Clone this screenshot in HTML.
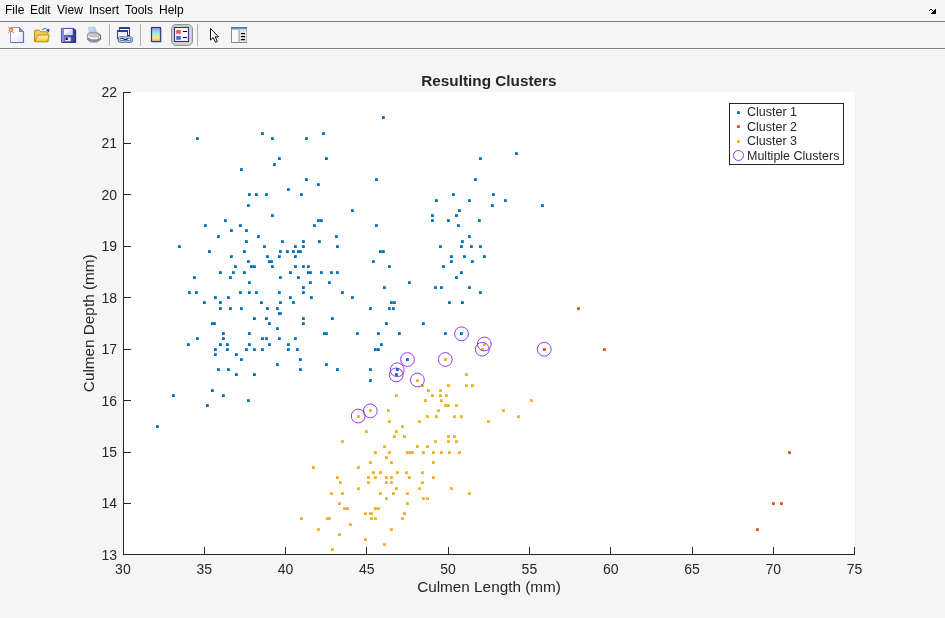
<!DOCTYPE html>
<html><head><meta charset="utf-8"><title>Resulting Clusters</title>
<style>
html,body{margin:0;padding:0}
body{width:945px;height:618px;background:#f5f5f5;position:relative;overflow:hidden;font-family:"Liberation Sans",Arial,sans-serif}
#menubar{position:absolute;left:0;top:0;width:945px;height:21px;font-size:12px;color:#000}
#menubar span{position:absolute;top:3px;white-space:nowrap}
.hl{position:absolute;left:0;width:945px;height:1px;background:#808080}
</style></head><body>
<div id="menubar">
<span style="left:5px">File</span><span style="left:30px">Edit</span><span style="left:57px">View</span><span style="left:89px">Insert</span><span style="left:125px">Tools</span><span style="left:159px">Help</span>
</div>
<div class="hl" style="top:21px"></div>
<div class="hl" style="top:48px"></div>
<svg id="toolbar" width="945" height="50" viewBox="0 0 945 50" style="position:absolute;left:0;top:0">
<defs>
<linearGradient id="gpage" x1="0" y1="0" x2="1" y2="1"><stop offset="0" stop-color="#ffffff"/><stop offset="0.45" stop-color="#fbfdff"/><stop offset="1" stop-color="#d2e1fa"/></linearGradient>
<linearGradient id="gfold" x1="0" y1="0" x2="0" y2="1"><stop offset="0" stop-color="#fff6b0"/><stop offset="1" stop-color="#f2c838"/></linearGradient>
<linearGradient id="gsave" x1="0" y1="0" x2="1" y2="0"><stop offset="0" stop-color="#7a7ae6"/><stop offset="1" stop-color="#34349a"/></linearGradient>
<linearGradient id="gcb" x1="0" y1="0" x2="0" y2="1"><stop offset="0" stop-color="#a08cf0"/><stop offset="0.35" stop-color="#8fe6ea"/><stop offset="0.7" stop-color="#f6f088"/><stop offset="1" stop-color="#fab090"/></linearGradient>
<linearGradient id="gpaper" x1="0" y1="0" x2="1" y2="1"><stop offset="0" stop-color="#d8e8ff"/><stop offset="1" stop-color="#9cc0f0"/></linearGradient>
<linearGradient id="gprn" x1="0" y1="0" x2="0" y2="1"><stop offset="0" stop-color="#e8e8e8"/><stop offset="1" stop-color="#9a9a9a"/></linearGradient>
</defs>
<!-- dock arrow -->
<g fill="#000" shape-rendering="crispEdges"><rect x="930" y="9" width="1" height="1"/><rect x="931" y="9" width="1" height="1"/><rect x="935" y="9" width="1" height="1"/><rect x="929" y="10" width="1" height="1"/><rect x="932" y="10" width="1" height="1"/><rect x="934" y="10" width="1" height="1"/><rect x="935" y="10" width="1" height="1"/><rect x="933" y="11" width="1" height="1"/><rect x="934" y="11" width="1" height="1"/><rect x="935" y="11" width="1" height="1"/><rect x="932" y="12" width="1" height="1"/><rect x="933" y="12" width="1" height="1"/><rect x="934" y="12" width="1" height="1"/><rect x="935" y="12" width="1" height="1"/><rect x="931" y="13" width="1" height="1"/><rect x="932" y="13" width="1" height="1"/><rect x="933" y="13" width="1" height="1"/><rect x="934" y="13" width="1" height="1"/><rect x="935" y="13" width="1" height="1"/></g>
<!-- new -->
<path d="M10.5 27.5 H19.5 L23.5 31.5 V42.5 H10.5 Z" fill="url(#gpage)" stroke="#7a9ad8" stroke-width="1"/>
<path d="M23.5 31.5 V42.5 H11" fill="none" stroke="#6a6fa5" stroke-width="1.2"/>
<path d="M19.5 27.5 V31.5 H23.5 Z" fill="#8f95cc" stroke="#6a6fa5" stroke-width="0.8"/>
<g fill="#e88a5a"><rect x="7.8" y="26.8" width="1.2" height="1.2"/><rect x="13" y="26.8" width="1.2" height="1.2"/><rect x="7.8" y="32" width="1.2" height="1.2"/><rect x="13" y="32" width="1.2" height="1.2"/></g>
<circle cx="11" cy="30" r="2.4" fill="#ea7e52"/><circle cx="11" cy="30" r="1.1" fill="#f4e060"/>
<!-- open -->
<path d="M34.5 31.2 Q34.5 30.2 35.5 30.2 H39.6 L40.8 31.8 H47 Q48 31.8 48 32.8 V41.5 H34.5 Z" fill="#f3cf52" stroke="#c08a10" stroke-width="1"/>
<path d="M37.6 35 H49.2 L47.6 41.8 H35 Z" fill="url(#gfold)" stroke="#c08a10" stroke-width="1"/>
<path d="M42 30.2 Q45 26.8 47.6 30" fill="none" stroke="#5878b8" stroke-width="1.1"/>
<path d="M49.3 28.6 L49.2 32.4 L46.2 30.6 Z" fill="#2f4f9a"/>
<!-- save -->
<path d="M61.5 28.4 H74 L75.5 29.9 V42.3 H61.5 Z" fill="url(#gsave)" stroke="#3a3a98" stroke-width="0.8"/>
<path d="M62 42.4 H75.7 V29.6" fill="none" stroke="#24246a" stroke-width="0.8"/><rect x="62" y="28.5" width="1.6" height="13.4" fill="#9a9af2" opacity="0.8"/><rect x="64" y="29" width="8.5" height="6" fill="#f4f6ff"/>
<path d="M72.5 29 V35 H64 Z" fill="#c8d0f0" opacity="0.7"/>
<rect x="65.3" y="37.4" width="5.4" height="3.8" fill="#e8e8f4"/>
<rect x="65.6" y="37.6" width="2.2" height="2.4" fill="#101020"/>
<!-- print -->
<path d="M88.3 27.2 H94.8 L96.7 33 H89.8 Z" fill="url(#gpaper)" stroke="#8aa8dc" stroke-width="0.5"/>
<path d="M87.4 34.2 L89.2 32.8 H97 L100.6 35.2 V39.6 L96.6 42.4 H91.2 L87.4 39.8 Z" fill="#b4b4b4" stroke="#7c7c7c" stroke-width="0.7"/>
<path d="M87.8 35.4 L91.6 37.2 H96.6 L100.2 35.6 V37.4 L96.6 39.2 H91.6 L87.8 37.2 Z" fill="#f2f2f2"/>
<path d="M87.8 37.6 L91.6 39.6 H96.6 L100.2 37.8 V39.4 L96.4 41.9 H91.4 L87.8 39.5 Z" fill="#8e8e8e"/>
<path d="M89.6 33.4 H96.8 L99.6 35.2 L96.6 36.6 H91.8 L88.4 35 Z" fill="#c8c8c8"/>
<path d="M97.2 33 L100.6 35.3 V39.4" fill="none" stroke="#5e5e5e" stroke-width="0.8"/>
<rect x="98" y="36.4" width="1.1" height="1.1" fill="#38c038"/>
<path d="M91.4 42.1 H96.4" stroke="#c8d4f0" stroke-width="0.9"/>
<path d="M93.2 41.2 H95.6" stroke="#5a7ad0" stroke-width="0.9"/>
<!-- separators -->
<g fill="#b2b2b2"><rect x="109" y="24" width="1" height="22"/><rect x="140" y="24" width="1" height="22"/><rect x="197" y="24" width="1" height="22"/></g>
<!-- link -->
<rect x="119.5" y="28" width="10" height="7.5" fill="#f4f6fc" stroke="#2a3f8f" stroke-width="1"/>
<rect x="119" y="27" width="11" height="2" fill="#2a3f8f"/>
<rect x="117.5" y="31" width="10" height="7.5" fill="#eef2fa" stroke="#2a3f8f" stroke-width="1"/>
<rect x="117" y="30" width="11" height="2" fill="#2a3f8f"/>
<g fill="none" stroke="#3c5488" stroke-width="2.6"><ellipse cx="122.2" cy="39.4" rx="3.2" ry="2.2"/><ellipse cx="128.6" cy="39.4" rx="3.2" ry="2.2"/></g>
<g fill="none" stroke="#b8cce8" stroke-width="1.2"><ellipse cx="122.2" cy="39.4" rx="3.2" ry="2.2"/><ellipse cx="128.6" cy="39.4" rx="3.2" ry="2.2"/></g>
<path d="M123.5 39.6 H127.5" stroke="#1c2c58" stroke-width="1.2"/>
<!-- colorbar -->
<rect x="151.5" y="27.5" width="9" height="14" fill="url(#gcb)" stroke="#2a3f7f" stroke-width="1.2"/>
<path d="M161.3 28.5 V42.3 H152.5" fill="none" stroke="#8a93b0" stroke-width="0.8" opacity="0.7"/>
<!-- legend (pressed) -->
<rect x="171.5" y="24.5" width="21" height="21" rx="4.5" ry="4.5" fill="#dcdcdc" stroke="#929292" stroke-width="1"/>
<rect x="172.7" y="25.7" width="18.6" height="18.6" rx="3.5" ry="3.5" fill="none" stroke="#c6c6c6" stroke-width="1"/>
<rect x="174.5" y="27.5" width="14" height="14" fill="#fff" stroke="#2a3f7f" stroke-width="1.2"/>
<rect x="176.2" y="30" width="4.6" height="3.8" fill="#e85858"/>
<rect x="176.2" y="36" width="4.6" height="3.8" fill="#6060e0"/>
<rect x="183" y="31" width="4" height="1" fill="#000"/><rect x="183" y="37" width="4" height="1" fill="#000"/>
<!-- arrow -->
<path d="M210.5 28.5 V40 L213.2 37.6 L215.6 42.3 L217.4 41.4 L215.2 36.9 H218.6 Z" fill="#fff" stroke="#000" stroke-width="0.95" stroke-linejoin="miter"/>
<!-- property inspector -->
<rect x="231.5" y="27.5" width="15" height="15" fill="#fafafa" stroke="#8a8a8a" stroke-width="1"/>
<rect x="231" y="27" width="16" height="2.4" fill="#4a78b0"/><rect x="231.5" y="28.6" width="15" height="0.8" fill="#9fc0e0"/>
<rect x="239" y="29.4" width="7.5" height="12.6" fill="#e2e5e8"/>
<rect x="238.6" y="29.4" width="1" height="12.6" fill="#8a98a8"/>
<g fill="#000"><rect x="241" y="33" width="4" height="1.2"/><rect x="241" y="36" width="4" height="1.2"/><rect x="241" y="39" width="4" height="1.2"/></g>
</svg>

<svg id="plot" width="945" height="618" viewBox="0 0 945 618" style="position:absolute;left:0;top:0" shape-rendering="auto">
<rect x="123" y="92" width="732" height="463" fill="#fff"/>
<defs>
<g id="c1" shape-rendering="crispEdges"><rect width="3" height="3" fill="#0072BD"/><rect width="3" height="1" fill="#fff" fill-opacity="0.18"/><rect x="2" width="1" height="3" fill="#fff" fill-opacity="0.18"/></g>
<g id="c2" shape-rendering="crispEdges"><rect width="3" height="3" fill="#D95319"/><rect width="3" height="1" fill="#fff" fill-opacity="0.18"/><rect x="2" width="1" height="3" fill="#fff" fill-opacity="0.18"/></g>
<g id="c3" shape-rendering="crispEdges"><rect width="3" height="3" fill="#EDB120"/><rect width="3" height="1" fill="#fff" fill-opacity="0.18"/><rect x="2" width="1" height="3" fill="#fff" fill-opacity="0.18"/></g>
</defs>
<g>
<use href="#c1" x="196" y="137"/>
<use href="#c1" x="261" y="132"/>
<use href="#c1" x="271" y="137"/>
<use href="#c1" x="278" y="157"/>
<use href="#c1" x="273" y="163"/>
<use href="#c1" x="240" y="168"/>
<use href="#c1" x="287" y="188"/>
<use href="#c1" x="248" y="193"/>
<use href="#c1" x="255" y="193"/>
<use href="#c1" x="265" y="193"/>
<use href="#c1" x="247" y="204"/>
<use href="#c1" x="271" y="214"/>
<use href="#c1" x="382" y="116"/>
<use href="#c1" x="322" y="132"/>
<use href="#c1" x="305" y="137"/>
<use href="#c1" x="325" y="157"/>
<use href="#c1" x="305" y="178"/>
<use href="#c1" x="317" y="183"/>
<use href="#c1" x="375" y="178"/>
<use href="#c1" x="300" y="193"/>
<use href="#c1" x="452" y="193"/>
<use href="#c1" x="435" y="199"/>
<use href="#c1" x="351" y="209"/>
<use href="#c1" x="458" y="209"/>
<use href="#c1" x="431" y="214"/>
<use href="#c1" x="455" y="214"/>
<use href="#c1" x="515" y="152"/>
<use href="#c1" x="479" y="157"/>
<use href="#c1" x="474" y="178"/>
<use href="#c1" x="492" y="193"/>
<use href="#c1" x="468" y="199"/>
<use href="#c1" x="504" y="199"/>
<use href="#c1" x="491" y="204"/>
<use href="#c1" x="541" y="204"/>
<use href="#c1" x="224" y="219"/>
<use href="#c1" x="204" y="224"/>
<use href="#c1" x="239" y="224"/>
<use href="#c1" x="230" y="229"/>
<use href="#c1" x="245" y="229"/>
<use href="#c1" x="217" y="235"/>
<use href="#c1" x="257" y="235"/>
<use href="#c1" x="245" y="240"/>
<use href="#c1" x="281" y="240"/>
<use href="#c1" x="178" y="245"/>
<use href="#c1" x="263" y="245"/>
<use href="#c1" x="294" y="245"/>
<use href="#c1" x="208" y="250"/>
<use href="#c1" x="243" y="250"/>
<use href="#c1" x="279" y="250"/>
<use href="#c1" x="286" y="250"/>
<use href="#c1" x="292" y="250"/>
<use href="#c1" x="297" y="250"/>
<use href="#c1" x="299" y="250"/>
<use href="#c1" x="230" y="255"/>
<use href="#c1" x="266" y="255"/>
<use href="#c1" x="278" y="255"/>
<use href="#c1" x="294" y="255"/>
<use href="#c1" x="247" y="260"/>
<use href="#c1" x="268" y="260"/>
<use href="#c1" x="270" y="260"/>
<use href="#c1" x="234" y="265"/>
<use href="#c1" x="250" y="265"/>
<use href="#c1" x="253" y="265"/>
<use href="#c1" x="271" y="265"/>
<use href="#c1" x="294" y="265"/>
<use href="#c1" x="219" y="271"/>
<use href="#c1" x="232" y="271"/>
<use href="#c1" x="243" y="271"/>
<use href="#c1" x="289" y="271"/>
<use href="#c1" x="193" y="276"/>
<use href="#c1" x="229" y="276"/>
<use href="#c1" x="279" y="276"/>
<use href="#c1" x="297" y="276"/>
<use href="#c1" x="248" y="281"/>
<use href="#c1" x="188" y="291"/>
<use href="#c1" x="195" y="291"/>
<use href="#c1" x="239" y="291"/>
<use href="#c1" x="248" y="291"/>
<use href="#c1" x="255" y="291"/>
<use href="#c1" x="278" y="291"/>
<use href="#c1" x="214" y="296"/>
<use href="#c1" x="227" y="296"/>
<use href="#c1" x="289" y="296"/>
<use href="#c1" x="203" y="301"/>
<use href="#c1" x="219" y="301"/>
<use href="#c1" x="260" y="301"/>
<use href="#c1" x="279" y="301"/>
<use href="#c1" x="292" y="301"/>
<use href="#c1" x="219" y="307"/>
<use href="#c1" x="229" y="307"/>
<use href="#c1" x="240" y="307"/>
<use href="#c1" x="266" y="307"/>
<use href="#c1" x="276" y="307"/>
<use href="#c1" x="278" y="312"/>
<use href="#c1" x="279" y="312"/>
<use href="#c1" x="253" y="317"/>
<use href="#c1" x="265" y="317"/>
<use href="#c1" x="211" y="322"/>
<use href="#c1" x="213" y="322"/>
<use href="#c1" x="268" y="322"/>
<use href="#c1" x="276" y="327"/>
<use href="#c1" x="222" y="332"/>
<use href="#c1" x="248" y="332"/>
<use href="#c1" x="317" y="219"/>
<use href="#c1" x="320" y="219"/>
<use href="#c1" x="431" y="219"/>
<use href="#c1" x="447" y="219"/>
<use href="#c1" x="313" y="224"/>
<use href="#c1" x="375" y="224"/>
<use href="#c1" x="457" y="224"/>
<use href="#c1" x="335" y="235"/>
<use href="#c1" x="302" y="240"/>
<use href="#c1" x="318" y="240"/>
<use href="#c1" x="302" y="245"/>
<use href="#c1" x="336" y="245"/>
<use href="#c1" x="439" y="245"/>
<use href="#c1" x="379" y="250"/>
<use href="#c1" x="382" y="250"/>
<use href="#c1" x="450" y="255"/>
<use href="#c1" x="372" y="260"/>
<use href="#c1" x="450" y="260"/>
<use href="#c1" x="302" y="265"/>
<use href="#c1" x="307" y="265"/>
<use href="#c1" x="388" y="265"/>
<use href="#c1" x="442" y="265"/>
<use href="#c1" x="307" y="271"/>
<use href="#c1" x="309" y="271"/>
<use href="#c1" x="320" y="271"/>
<use href="#c1" x="330" y="271"/>
<use href="#c1" x="336" y="271"/>
<use href="#c1" x="455" y="276"/>
<use href="#c1" x="309" y="281"/>
<use href="#c1" x="328" y="281"/>
<use href="#c1" x="408" y="281"/>
<use href="#c1" x="302" y="286"/>
<use href="#c1" x="383" y="286"/>
<use href="#c1" x="434" y="286"/>
<use href="#c1" x="440" y="286"/>
<use href="#c1" x="302" y="291"/>
<use href="#c1" x="341" y="291"/>
<use href="#c1" x="310" y="296"/>
<use href="#c1" x="351" y="296"/>
<use href="#c1" x="390" y="301"/>
<use href="#c1" x="393" y="301"/>
<use href="#c1" x="448" y="301"/>
<use href="#c1" x="369" y="307"/>
<use href="#c1" x="388" y="307"/>
<use href="#c1" x="392" y="307"/>
<use href="#c1" x="302" y="317"/>
<use href="#c1" x="331" y="317"/>
<use href="#c1" x="302" y="322"/>
<use href="#c1" x="385" y="322"/>
<use href="#c1" x="422" y="322"/>
<use href="#c1" x="323" y="332"/>
<use href="#c1" x="325" y="332"/>
<use href="#c1" x="356" y="332"/>
<use href="#c1" x="377" y="332"/>
<use href="#c1" x="398" y="332"/>
<use href="#c1" x="444" y="332"/>
<use href="#c1" x="478" y="219"/>
<use href="#c1" x="468" y="235"/>
<use href="#c1" x="461" y="240"/>
<use href="#c1" x="460" y="245"/>
<use href="#c1" x="470" y="245"/>
<use href="#c1" x="479" y="245"/>
<use href="#c1" x="463" y="255"/>
<use href="#c1" x="483" y="255"/>
<use href="#c1" x="471" y="260"/>
<use href="#c1" x="460" y="271"/>
<use href="#c1" x="468" y="286"/>
<use href="#c1" x="479" y="291"/>
<use href="#c1" x="461" y="301"/>
<use href="#c1" x="460" y="332"/>
<use href="#c1" x="196" y="337"/>
<use href="#c1" x="222" y="337"/>
<use href="#c1" x="261" y="337"/>
<use href="#c1" x="265" y="337"/>
<use href="#c1" x="278" y="337"/>
<use href="#c1" x="294" y="337"/>
<use href="#c1" x="187" y="343"/>
<use href="#c1" x="219" y="343"/>
<use href="#c1" x="226" y="343"/>
<use href="#c1" x="248" y="343"/>
<use href="#c1" x="268" y="343"/>
<use href="#c1" x="287" y="343"/>
<use href="#c1" x="214" y="348"/>
<use href="#c1" x="226" y="348"/>
<use href="#c1" x="245" y="348"/>
<use href="#c1" x="253" y="348"/>
<use href="#c1" x="261" y="348"/>
<use href="#c1" x="287" y="348"/>
<use href="#c1" x="296" y="348"/>
<use href="#c1" x="214" y="353"/>
<use href="#c1" x="235" y="353"/>
<use href="#c1" x="240" y="358"/>
<use href="#c1" x="299" y="358"/>
<use href="#c1" x="276" y="363"/>
<use href="#c1" x="217" y="368"/>
<use href="#c1" x="227" y="368"/>
<use href="#c1" x="299" y="368"/>
<use href="#c1" x="235" y="373"/>
<use href="#c1" x="253" y="373"/>
<use href="#c1" x="211" y="389"/>
<use href="#c1" x="172" y="394"/>
<use href="#c1" x="222" y="394"/>
<use href="#c1" x="247" y="399"/>
<use href="#c1" x="206" y="404"/>
<use href="#c1" x="156" y="425"/>
<use href="#c1" x="380" y="343"/>
<use href="#c1" x="374" y="348"/>
<use href="#c1" x="377" y="348"/>
<use href="#c1" x="406" y="358"/>
<use href="#c1" x="325" y="363"/>
<use href="#c1" x="336" y="368"/>
<use href="#c1" x="369" y="368"/>
<use href="#c1" x="396" y="368"/>
<use href="#c1" x="395" y="373"/>
<use href="#c1" x="369" y="379"/>
</g>
<g>
<use href="#c2" x="577" y="307"/>
<use href="#c2" x="543" y="348"/>
<use href="#c2" x="603" y="348"/>
<use href="#c2" x="788" y="451"/>
<use href="#c2" x="772" y="502"/>
<use href="#c2" x="780" y="502"/>
<use href="#c2" x="756" y="528"/>
</g>
<g>
<use href="#c3" x="444" y="358"/>
<use href="#c3" x="416" y="379"/>
<use href="#c3" x="421" y="384"/>
<use href="#c3" x="447" y="384"/>
<use href="#c3" x="427" y="389"/>
<use href="#c3" x="439" y="389"/>
<use href="#c3" x="395" y="394"/>
<use href="#c3" x="431" y="394"/>
<use href="#c3" x="439" y="394"/>
<use href="#c3" x="445" y="394"/>
<use href="#c3" x="424" y="399"/>
<use href="#c3" x="440" y="399"/>
<use href="#c3" x="444" y="404"/>
<use href="#c3" x="447" y="404"/>
<use href="#c3" x="455" y="404"/>
<use href="#c3" x="369" y="409"/>
<use href="#c3" x="387" y="409"/>
<use href="#c3" x="437" y="409"/>
<use href="#c3" x="357" y="415"/>
<use href="#c3" x="426" y="415"/>
<use href="#c3" x="435" y="415"/>
<use href="#c3" x="453" y="415"/>
<use href="#c3" x="388" y="420"/>
<use href="#c3" x="418" y="420"/>
<use href="#c3" x="401" y="425"/>
<use href="#c3" x="365" y="430"/>
<use href="#c3" x="395" y="430"/>
<use href="#c3" x="393" y="435"/>
<use href="#c3" x="403" y="435"/>
<use href="#c3" x="447" y="435"/>
<use href="#c3" x="453" y="435"/>
<use href="#c3" x="341" y="440"/>
<use href="#c3" x="434" y="440"/>
<use href="#c3" x="447" y="440"/>
<use href="#c3" x="455" y="440"/>
<use href="#c3" x="383" y="445"/>
<use href="#c3" x="416" y="445"/>
<use href="#c3" x="426" y="445"/>
<use href="#c3" x="483" y="343"/>
<use href="#c3" x="481" y="348"/>
<use href="#c3" x="465" y="373"/>
<use href="#c3" x="465" y="384"/>
<use href="#c3" x="471" y="384"/>
<use href="#c3" x="530" y="399"/>
<use href="#c3" x="502" y="409"/>
<use href="#c3" x="460" y="415"/>
<use href="#c3" x="517" y="415"/>
<use href="#c3" x="487" y="420"/>
<use href="#c3" x="374" y="451"/>
<use href="#c3" x="388" y="451"/>
<use href="#c3" x="406" y="451"/>
<use href="#c3" x="409" y="451"/>
<use href="#c3" x="411" y="451"/>
<use href="#c3" x="422" y="451"/>
<use href="#c3" x="432" y="451"/>
<use href="#c3" x="440" y="451"/>
<use href="#c3" x="448" y="451"/>
<use href="#c3" x="458" y="451"/>
<use href="#c3" x="385" y="456"/>
<use href="#c3" x="369" y="461"/>
<use href="#c3" x="390" y="461"/>
<use href="#c3" x="432" y="461"/>
<use href="#c3" x="312" y="466"/>
<use href="#c3" x="357" y="466"/>
<use href="#c3" x="372" y="471"/>
<use href="#c3" x="379" y="471"/>
<use href="#c3" x="396" y="471"/>
<use href="#c3" x="405" y="471"/>
<use href="#c3" x="421" y="471"/>
<use href="#c3" x="336" y="476"/>
<use href="#c3" x="367" y="476"/>
<use href="#c3" x="374" y="476"/>
<use href="#c3" x="385" y="476"/>
<use href="#c3" x="390" y="476"/>
<use href="#c3" x="408" y="476"/>
<use href="#c3" x="432" y="476"/>
<use href="#c3" x="339" y="481"/>
<use href="#c3" x="367" y="481"/>
<use href="#c3" x="385" y="481"/>
<use href="#c3" x="390" y="481"/>
<use href="#c3" x="421" y="481"/>
<use href="#c3" x="357" y="487"/>
<use href="#c3" x="395" y="487"/>
<use href="#c3" x="418" y="487"/>
<use href="#c3" x="450" y="487"/>
<use href="#c3" x="330" y="492"/>
<use href="#c3" x="341" y="492"/>
<use href="#c3" x="379" y="492"/>
<use href="#c3" x="392" y="492"/>
<use href="#c3" x="406" y="492"/>
<use href="#c3" x="385" y="497"/>
<use href="#c3" x="422" y="497"/>
<use href="#c3" x="426" y="497"/>
<use href="#c3" x="338" y="502"/>
<use href="#c3" x="406" y="502"/>
<use href="#c3" x="343" y="507"/>
<use href="#c3" x="346" y="507"/>
<use href="#c3" x="374" y="507"/>
<use href="#c3" x="377" y="507"/>
<use href="#c3" x="364" y="512"/>
<use href="#c3" x="369" y="512"/>
<use href="#c3" x="370" y="512"/>
<use href="#c3" x="403" y="512"/>
<use href="#c3" x="300" y="517"/>
<use href="#c3" x="326" y="517"/>
<use href="#c3" x="328" y="517"/>
<use href="#c3" x="370" y="517"/>
<use href="#c3" x="374" y="517"/>
<use href="#c3" x="401" y="517"/>
<use href="#c3" x="349" y="523"/>
<use href="#c3" x="317" y="528"/>
<use href="#c3" x="390" y="528"/>
<use href="#c3" x="338" y="533"/>
<use href="#c3" x="364" y="538"/>
<use href="#c3" x="383" y="543"/>
<use href="#c3" x="331" y="548"/>
<use href="#c3" x="468" y="492"/>
</g>
<g fill="none" stroke="#8626e0" stroke-width="0.9">
<circle cx="407.5" cy="359.5" r="6.9"/>
<circle cx="397.2" cy="369.8" r="6.9"/>
<circle cx="396.2" cy="374.9" r="6.9"/>
<circle cx="445.3" cy="359.5" r="6.9"/>
<circle cx="417.4" cy="380.0" r="6.9"/>
<circle cx="370.3" cy="410.9" r="6.9"/>
<circle cx="358.2" cy="416.0" r="6.9"/>
<circle cx="461.5" cy="333.8" r="6.9"/>
<circle cx="484.3" cy="344.0" r="6.9"/>
<circle cx="482.3" cy="349.2" r="6.9"/>
<circle cx="544.2" cy="349.2" r="6.9"/>
</g>
<g stroke="#262626" stroke-width="1" fill="none" shape-rendering="crispEdges">
<line x1="123.5" y1="92" x2="123.5" y2="555"/>
<line x1="123" y1="554.5" x2="855" y2="554.5"/>
<line x1="123.5" y1="554" x2="123.5" y2="547"/>
<line x1="204.5" y1="554" x2="204.5" y2="547"/>
<line x1="285.5" y1="554" x2="285.5" y2="547"/>
<line x1="366.5" y1="554" x2="366.5" y2="547"/>
<line x1="448.5" y1="554" x2="448.5" y2="547"/>
<line x1="529.5" y1="554" x2="529.5" y2="547"/>
<line x1="610.5" y1="554" x2="610.5" y2="547"/>
<line x1="692.5" y1="554" x2="692.5" y2="547"/>
<line x1="773.5" y1="554" x2="773.5" y2="547"/>
<line x1="854.5" y1="554" x2="854.5" y2="547"/>
<line x1="124" y1="554.5" x2="131" y2="554.5"/>
<line x1="124" y1="503.5" x2="131" y2="503.5"/>
<line x1="124" y1="452.5" x2="131" y2="452.5"/>
<line x1="124" y1="400.5" x2="131" y2="400.5"/>
<line x1="124" y1="349.5" x2="131" y2="349.5"/>
<line x1="124" y1="297.5" x2="131" y2="297.5"/>
<line x1="124" y1="246.5" x2="131" y2="246.5"/>
<line x1="124" y1="194.5" x2="131" y2="194.5"/>
<line x1="124" y1="143.5" x2="131" y2="143.5"/>
<line x1="124" y1="92.5" x2="131" y2="92.5"/>
</g>
<g font-family="Liberation Sans, Arial, sans-serif" font-size="14" fill="#262626">
<text x="122.9" y="573.5" text-anchor="middle">30</text>
<text x="204.2" y="573.5" text-anchor="middle">35</text>
<text x="285.5" y="573.5" text-anchor="middle">40</text>
<text x="366.8" y="573.5" text-anchor="middle">45</text>
<text x="448.1" y="573.5" text-anchor="middle">50</text>
<text x="529.4" y="573.5" text-anchor="middle">55</text>
<text x="610.7" y="573.5" text-anchor="middle">60</text>
<text x="692.0" y="573.5" text-anchor="middle">65</text>
<text x="773.3" y="573.5" text-anchor="middle">70</text>
<text x="854.6" y="573.5" text-anchor="middle">75</text>
<text x="117" y="560.0" text-anchor="end">13</text>
<text x="117" y="508.0" text-anchor="end">14</text>
<text x="117" y="457.0" text-anchor="end">15</text>
<text x="117" y="406.0" text-anchor="end">16</text>
<text x="117" y="354.0" text-anchor="end">17</text>
<text x="117" y="303.0" text-anchor="end">18</text>
<text x="117" y="251.0" text-anchor="end">19</text>
<text x="117" y="200.0" text-anchor="end">20</text>
<text x="117" y="148.0" text-anchor="end">21</text>
<text x="117" y="97.0" text-anchor="end">22</text>
</g>
<text x="489" y="592" text-anchor="middle" font-family="Liberation Sans, Arial, sans-serif" font-size="15.3" fill="#262626">Culmen Length (mm)</text>
<text transform="translate(94,323.3) rotate(-90)" text-anchor="middle" font-family="Liberation Sans, Arial, sans-serif" font-size="15.3" fill="#262626">Culmen Depth (mm)</text>
<text x="488.9" y="86" text-anchor="middle" font-family="Liberation Sans, Arial, sans-serif" font-size="15.3" font-weight="bold" fill="#262626">Resulting Clusters</text>
<rect x="729.5" y="103.5" width="114" height="61" fill="#fff" stroke="#262626" stroke-width="1" shape-rendering="crispEdges"/>
<g font-family="Liberation Sans, Arial, sans-serif" font-size="12.5" fill="#262626">
<text x="747" y="116.0">Cluster 1</text>
<text x="747" y="131.0">Cluster 2</text>
<text x="747" y="145.0">Cluster 3</text>
<text x="747" y="160.0">Multiple Clusters</text>
</g>
<use href="#c1" x="737" y="111"/>
<use href="#c2" x="737" y="125"/>
<use href="#c3" x="737" y="140"/>
<circle cx="738.5" cy="155.5" r="5" fill="none" stroke="#8626e0" stroke-width="0.9"/>
</svg>
</body></html>
